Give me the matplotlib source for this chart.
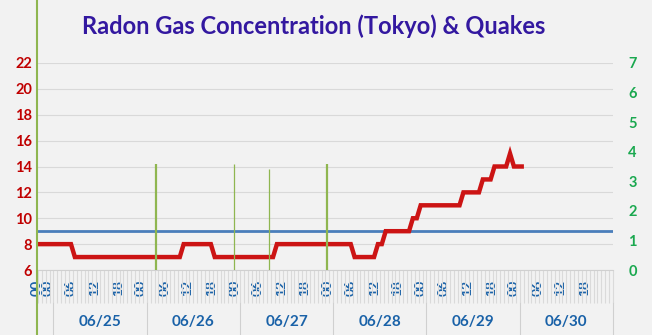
import numpy as np
import matplotlib
matplotlib.use("Agg")
import matplotlib.pyplot as plt
from matplotlib.lines import Line2D

plt.rcParams['font.family'] = ['Lato', 'DejaVu Sans']

# hourly radon readings, first value is 06/24 20:00
radon_0624 = [8, 8, 8, 8]
radon_0625 = [8, 8, 8, 8, 8, 7, 7, 7, 7, 7, 7, 7, 7, 7, 7, 7, 7, 7, 7, 7, 7, 7, 7, 7]
radon_0626 = [7, 7, 7, 7, 7, 7, 7, 7, 7, 8, 8, 8, 8, 8, 8, 8, 8, 7, 7, 7, 7, 7, 7, 7]
radon_0627 = [7, 7, 7, 7, 7, 7, 7, 7, 7, 8, 8, 8, 8, 8, 8, 8, 8, 8, 8, 8, 8, 8, 8, 8]
radon_0628 = [8, 8, 8, 8, 8, 7, 7, 7, 7, 7, 7, 8, 8, 9, 9, 9, 9, 9, 9, 9, 10, 10, 11, 11]
radon_0629 = [11, 11, 11, 11, 11, 11, 11, 11, 11, 12, 12, 12, 12, 12, 13, 13, 13, 14, 14, 14, 14, 15, 14, 14]
radon_0630 = [14]
start_hour = -4

threshold = 9

# quake events: hour index (from 06/25 00:00) and magnitude
quake_hours = [26, 46, 55, 70]
quake_mag = [3.6, 3.6, 3.4, 3.6]
quake_width = [1.6, 0.9, 0.9, 1.6]

dates = ['06/25', '06/26', '06/27', '06/28', '06/29', '06/30']
hour_labels = ['00', '06', '12', '18']

bg = '#f2f2f2'
red = '#cc1414'
green_txt = '#1aa84f'
green_bar = '#8fb650'
blue_txt = '#1a62a8'

radon = radon_0624 + radon_0625 + radon_0626 + radon_0627 + radon_0628 + radon_0629 + radon_0630
x = np.arange(len(radon)) + start_hour + 0.5

fig = plt.figure(figsize=(6.52, 3.35), dpi=100, facecolor=bg)
ax = fig.add_axes([36.4 / 652, 65 / 335, (613 - 36.4) / 652, 207 / 335])
ax.set_facecolor(bg)
ax2 = ax.twinx()

ax.set_xlim(-4, 144)
ax.set_ylim(6, 22)
ax.set_yticks(range(6, 23, 2))
ax.grid(axis='y', color='#d9d9d9', lw=0.8)
ax.set_axisbelow(True)
ax.tick_params(axis='y', length=0, pad=3, labelcolor='#c00000', labelsize=10.5)
for lab in ax.get_yticklabels():
    lab.set_fontweight('bold')

for s in ['top', 'left', 'right']:
    ax.spines[s].set_visible(False)
    ax2.spines[s].set_visible(False)
ax.spines['bottom'].set_color('#d0d0d0')
ax2.spines['bottom'].set_visible(False)

ax.axhline(threshold, color='#4a7ebb', lw=2, zorder=3)
ax.plot(x, radon, color=red, lw=3.2, zorder=4, solid_joinstyle='miter')

ax2.set_ylim(0, 7)
ax2.set_yticks(range(0, 8))
ax2.tick_params(axis='y', length=0, pad=11, labelcolor=green_txt, labelsize=10.5)
for lab in ax2.get_yticklabels():
    lab.set_fontweight('bold')
ax2.vlines(np.array(quake_hours) + 0.5, 0, quake_mag, colors=green_bar, linewidths=quake_width, zorder=2)

# hourly category ticks
ax.set_xticks(np.arange(-4, 145), minor=True)
ax.tick_params(axis='x', which='minor', length=23.8, color='#dadada', width=0.8)
pos = [-4.4]
labs = ['00']
for d in range(len(dates)):
    for j, h in enumerate(hour_labels):
        pos.append(24 * d + 6 * j - 1.5)
        labs.append(h)
ax.set_xticks(pos)
ax.set_xticklabels(labs, rotation=90, color=blue_txt, fontsize=10, fontweight='bold')
ax.tick_params(axis='x', which='major', length=0, pad=7)

trans = ax.get_xaxis_transform()
for d in range(len(dates) + 1):
    ax.add_line(Line2D([24 * d, 24 * d], [-33 / 207, -66 / 207], transform=trans,
                       color='#d0d0d0', lw=0.8, clip_on=False))
for d, lab in enumerate(dates):
    ax.text(24 * d + 12, -52 / 207, lab, transform=trans, ha='center', va='center',
            color=blue_txt, fontsize=11, fontweight='bold')

fig.add_artist(Line2D([37 / 652, 37 / 652], [0, 1], color=green_bar, lw=1.5))

fig.text(314 / 652, 1 - 26 / 335, 'Radon Gas Concentration (Tokyo) & Quakes',
         ha='center', va='center', fontsize=17, fontweight='bold', color='#3318a0')

fig.savefig('out.png', dpi=100, facecolor=bg)
